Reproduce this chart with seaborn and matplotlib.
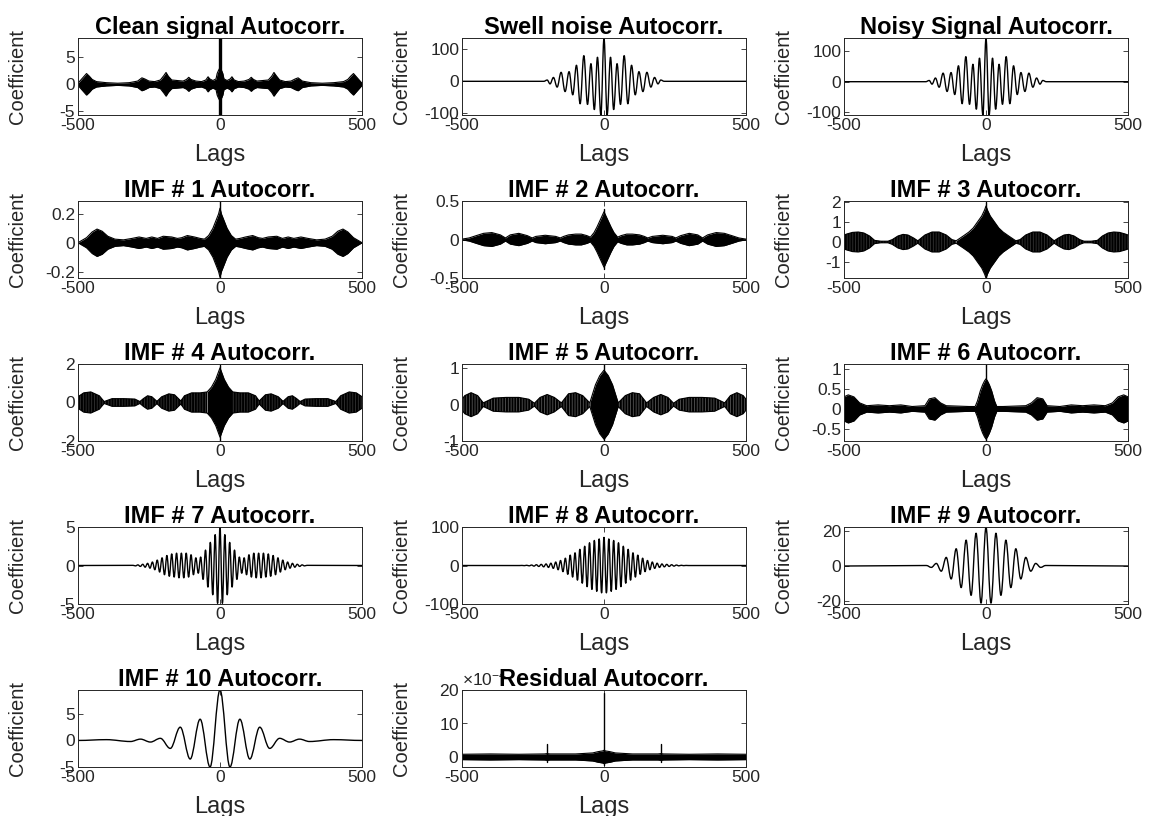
import numpy as np
import matplotlib
matplotlib.use("Agg")
import matplotlib.pyplot as plt
import seaborn as sns
from matplotlib.path import Path
from matplotlib.patches import PathPatch
from matplotlib.ticker import FuncFormatter, ScalarFormatter

# ---------------- data ----------------
titles = ["Clean signal Autocorr.", "Swell noise Autocorr.", "Noisy Signal Autocorr.",
          "IMF # 1 Autocorr.", "IMF # 2 Autocorr.", "IMF # 3 Autocorr.",
          "IMF # 4 Autocorr.", "IMF # 5 Autocorr.", "IMF # 6 Autocorr.",
          "IMF # 7 Autocorr.", "IMF # 8 Autocorr.", "IMF # 9 Autocorr.",
          "IMF # 10 Autocorr.", "Residual Autocorr."]
x_ticks = [-500, 0, 500]

# dense panels: lag knots and envelope amplitude, plus the lag-0 spike (bottom, top)
clean_lags = [-500,-490,-480,-470,-460,-450,-435,-400,-360,-320,-290,-275,-265,-250,-230,-210,-198,-190,-182,-170,
              -150,-130,-118,-110,-102,-85,-65,-50,-42,-36,-25,-14,-10,-6,-1,0,1,6,10,14,25,36,42,50,65,85,102,110,
              118,130,150,170,182,190,198,210,230,250,265,275,290,320,360,400,435,450,460,470,480,490,500]
clean_amp = [0.2,0.8,1.4,2.0,1.5,0.9,0.5,0.3,0.2,0.3,0.6,1.2,1.0,0.6,0.5,0.8,1.6,2.2,1.5,0.8,
             0.7,0.6,0.9,1.3,0.9,0.6,0.5,0.8,1.4,1.0,0.7,1.0,2.0,2.5,3.0,3.0,3.0,2.5,2.0,1.0,0.7,1.0,1.4,0.8,0.5,0.6,0.9,1.3,
             0.9,0.6,0.7,0.8,1.5,2.2,1.6,0.8,0.5,0.6,1.0,1.2,0.6,0.3,0.2,0.3,0.5,0.9,1.5,2.0,1.4,0.8,0.2]
clean_spike = [-5.7, 8.6]

imf1_lags = [-500,-490,-470,-450,-433,-415,-395,-370,-340,-310,-285,-260,-240,-220,-200,-170,-150,-135,-115,-90,-70,-55,
             -40,-25,-15,-5,0,5,15,25,40,55,70,90,115,135,150,170,200,220,240,260,285,310,340,370,395,415,433,450,470,490,500]
imf1_amp = [0.0,0.012,0.035,0.075,0.095,0.08,0.045,0.025,0.02,0.03,0.04,0.03,0.04,0.03,0.045,0.04,0.03,0.035,0.05,0.04,0.03,0.025,
            0.05,0.1,0.15,0.2,0.24,0.2,0.15,0.1,0.05,0.025,0.03,0.04,0.05,0.035,0.03,0.04,0.045,0.03,0.04,0.03,0.04,0.03,0.02,0.025,
            0.045,0.08,0.095,0.075,0.035,0.012,0.0]
imf1_spike = [-0.245, 0.29]

imf2_lags = [-500,-475,-450,-424,-395,-365,-347,-330,-300,-270,-253,-240,-207,-170,-154,-142,-125,-100,-80,-60,-48,-35,-25,-15,-5,
             0,5,15,25,35,48,60,80,100,125,142,154,170,207,240,253,270,300,330,347,365,395,424,450,475,500]
imf2_amp = [0.005,0.02,0.05,0.08,0.09,0.06,0.02,0.06,0.08,0.05,0.02,0.04,0.055,0.04,0.02,0.04,0.06,0.07,0.07,0.05,0.03,0.09,0.16,0.24,0.32,
            0.36,0.32,0.24,0.16,0.09,0.03,0.05,0.07,0.07,0.06,0.04,0.02,0.04,0.055,0.04,0.02,0.05,0.08,0.06,0.02,0.06,0.09,0.08,0.05,0.02,0.005]
imf2_spike = [-0.38, 0.40]

imf3_lags = [-500,-490,-470,-450,-430,-410,-392,-370,-345,-330,-310,-292,-275,-255,-240,-215,-190,-165,-140,-120,-105,-80,-60,-45,-30,-15,-5,
             0,5,15,30,45,60,80,105,120,140,165,190,215,240,255,275,292,310,330,345,370,392,410,430,450,470,490,500]
imf3_amp = [0.35,0.4,0.48,0.5,0.45,0.3,0.08,0.04,0.04,0.12,0.3,0.38,0.35,0.2,0.06,0.35,0.5,0.5,0.35,0.12,0.06,0.3,0.5,0.7,1.0,1.3,1.6,
            1.8,1.6,1.3,1.0,0.7,0.5,0.3,0.06,0.12,0.35,0.5,0.5,0.35,0.06,0.2,0.35,0.38,0.3,0.12,0.04,0.04,0.08,0.3,0.45,0.5,0.48,0.4,0.35]
imf3_spike = [-1.8, 2.0]

imf4_lags = [-500,-480,-455,-425,-408,-380,-340,-300,-282,-270,-255,-240,-222,-205,-180,-160,-138,-125,-100,-70,-45,-30,-15,-5,
             0,5,15,30,45,70,100,125,138,160,180,205,222,240,255,270,282,300,340,380,408,425,455,480,500]
imf4_amp = [0.3,0.5,0.55,0.35,0.05,0.2,0.2,0.18,0.05,0.2,0.35,0.3,0.06,0.3,0.45,0.4,0.08,0.35,0.5,0.5,0.55,0.8,1.2,1.6,
            1.8,1.6,1.2,0.8,0.55,0.5,0.5,0.35,0.08,0.4,0.45,0.3,0.06,0.3,0.35,0.2,0.05,0.18,0.2,0.2,0.05,0.35,0.55,0.5,0.3]
imf4_spike = [-2.0, 1.95]

imf5_lags = [-500,-490,-468,-445,-425,-390,-345,-300,-265,-245,-225,-200,-175,-150,-125,-100,-75,-50,-42,-30,-15,-5,
             0,5,15,30,42,50,75,100,125,150,175,200,225,245,265,300,345,390,425,445,468,490,500]
imf5_amp = [0.15,0.25,0.33,0.25,0.05,0.18,0.2,0.2,0.15,0.04,0.2,0.28,0.2,0.05,0.3,0.33,0.25,0.05,0.25,0.55,0.8,0.9,
            0.95,0.9,0.8,0.55,0.25,0.05,0.25,0.33,0.3,0.05,0.2,0.28,0.2,0.04,0.15,0.2,0.2,0.18,0.05,0.25,0.33,0.25,0.15]
imf5_spike = [-1.0, 1.12]

imf6_lags = [-500,-485,-465,-445,-420,-380,-340,-300,-260,-215,-200,-180,-160,-140,-100,-60,-38,-30,-20,-12,-5,
             0,5,12,20,30,38,60,100,140,160,180,200,215,260,300,340,380,420,445,465,485,500]
imf6_amp = [0.3,0.35,0.3,0.15,0.08,0.1,0.08,0.1,0.06,0.08,0.25,0.28,0.15,0.08,0.07,0.06,0.06,0.2,0.45,0.6,0.7,
            0.75,0.7,0.6,0.45,0.2,0.06,0.06,0.07,0.08,0.15,0.28,0.25,0.08,0.06,0.1,0.08,0.1,0.08,0.15,0.3,0.35,0.3]
imf6_spike = [-0.8, 1.12]

resid_lags = [-500,-400,-300,-210,-200,-190,-100,-40,-20,-5,0,5,20,40,100,190,200,210,300,400,500]
resid_amp = [0.8e-4,0.9e-4,0.8e-4,0.9e-4,1.0e-4,0.9e-4,0.9e-4,1.2e-4,1.6e-4,1.8e-4,2.0e-4,1.8e-4,1.6e-4,1.2e-4,
             0.9e-4,0.9e-4,1.0e-4,0.9e-4,0.8e-4,0.9e-4,0.8e-4]
resid_spike_lags = [-200, 0, 200]
resid_spike_low = [-1.5e-4, -2.5e-4, -1.5e-4]
resid_spike_high = [4e-4, 19e-4, 4e-4]

# oscillating panels: lags of the extrema and their values
swell_lags = [-500,-212,-200,-190,-178,-165,-151,-137,-123,-110,-97,-84,-71,-58,-46,-34,-23,-11,0,
              11,23,34,46,58,71,84,97,110,123,137,151,165,178,190,200,212,500]
swell_vals = [0,0,4,-8,12,-18,28,-32,30,-42,50,-70,80,-72,55,-88,75,-105,135,
              -105,75,-88,55,-72,80,-70,50,-42,30,-32,28,-18,12,-8,4,0,0]
noisy_vals = [0,0,4,-8,12,-18,28,-32,30,-42,52,-72,82,-74,57,-90,77,-109,143,
              -109,77,-90,57,-74,82,-72,52,-42,30,-32,28,-18,12,-8,4,0,0]

imf7_lags = np.concatenate([[-500], np.arange(-306, 306.1, 8.5), [500]])
imf7_vals = [0,
             0.02,-0.05,0.08,-0.12,0.16,-0.22,0.28,-0.35,0.45,-0.55,0.7,-0.85,1.0,-1.2,1.3,-1.4,1.5,-1.5,
             1.6,-1.6,1.6,-1.6,1.6,-1.5,1.4,-1.2,1.0,-1.0,1.1,-1.8,2.0,-2.8,3.0,-3.8,4.0,-4.9,
             5.0,
             -4.9,4.0,-3.8,3.0,-2.8,2.0,-1.8,1.1,-1.0,1.0,-1.2,1.4,-1.5,1.6,-1.6,1.6,-1.6,1.6,
             -1.5,1.5,-1.4,1.3,-1.2,1.0,-0.85,0.7,-0.55,0.45,-0.35,0.28,-0.22,0.16,-0.12,0.08,-0.05,0.02,
             0]

imf8_lags = np.concatenate([[-500], np.arange(-297.5, 297.6, 8.5), [500]])
imf8_vals = [0,
             -0.1,0.2,-0.4,0.6,-0.9,1.2,-1.6,2,-2.5,3,-3.5,4,-5,6,-7.5,9,-11,13,-16,19,-23,27,-30,33,-38,42,
             -46,50,-55,59,-62,65,-67,69,-71,
             73,
             -71,69,-67,65,-62,59,-55,50,-46,42,-38,33,-30,27,-23,19,-16,13,-11,9,-7.5,6,-5,4,-3.5,3,-2.5,2,
             -1.6,1.2,-0.9,0.6,-0.4,0.2,-0.1,
             0]

imf9_lags = np.concatenate([[-500], np.arange(-210, 210.1, 17.5), [500]])
imf9_vals = [0,
             0.3,-0.8,1.5,-3,5,-7.5,10,-12.5,15,-17,19,-21.5,
             22.5,
             -21.5,19,-17,15,-12.5,10,-7.5,5,-3,1.5,-0.8,0.3,
             0]

imf10_lags = [-500,-400,-315,-280,-245,-210,-175,-140,-105,-70,-35,0,35,70,105,140,175,210,245,280,315,400,500]
imf10_vals = [0.0,0.15,-0.2,0.25,-0.3,0.4,-1.5,2.5,-3.5,4.0,-5.0,9.5,-5.0,4.0,-3.5,2.5,-1.5,0.4,-0.3,0.25,-0.2,0.15,0.0]

# ---------------- drawing ----------------
sns.set_theme(style="white")
plt.rcParams["font.family"] = ["Liberation Sans", "DejaVu Sans"]
plt.rcParams["axes.unicode_minus"] = False
plt.rcParams["mathtext.fontset"] = "custom"
plt.rcParams["mathtext.rm"] = "Liberation Sans"
plt.rcParams["hatch.color"] = "black"
plt.rcParams["hatch.linewidth"] = 1.4

W, H = 1149, 816
fig = plt.figure(figsize=(W / 100, H / 100), dpi=100)
col_left = [78, 462, 844]
row_top = [38, 201, 364, 527, 690]
AW, AH = 284, 77
INK = "#262626"


def make_ax(r, c):
    return fig.add_axes([col_left[c] / W, 1 - (row_top[r] + AH) / H, AW / W, AH / H])


def line_panel(ax, lags, vals, lw=1.0):
    """Smooth oscillation through the read extrema (horizontal tangent at each extremum)."""
    x = np.asarray(lags, float)
    y = np.asarray(vals, float)
    verts = [(x[0], y[0])]
    codes = [Path.MOVETO]
    for i in range(len(x) - 1):
        d = x[i + 1] - x[i]
        verts += [(x[i] + 0.364 * d, y[i]), (x[i + 1] - 0.364 * d, y[i + 1]), (x[i + 1], y[i + 1])]
        codes += [Path.CURVE4] * 3
    ax.add_patch(PathPatch(Path(verts, codes), facecolor="none", edgecolor="black",
                           linewidth=lw, transform=ax.transData, capstyle="round", joinstyle="round"))


def env_panel(ax, lags, amp, spike_lags, spike_low, spike_high, spike_lw=1.0,
              hatch=None, solid_w=None, shade="#4d4d4d"):
    lags = np.asarray(lags, float)
    amp = np.asarray(amp, float)
    if hatch is None:
        ax.fill_between(lags, -amp, amp, color="black", linewidth=0)
    else:
        inner = np.abs(lags) <= solid_w
        outer = np.abs(lags) >= solid_w
        ax.fill_between(lags, -amp, amp, where=inner, color="black", linewidth=0)
        ax.fill_between(lags, -amp, amp, where=outer, facecolor=shade, edgecolor="black",
                        hatch=hatch, linewidth=0)
    sns.lineplot(x=lags, y=amp, ax=ax, color="black", linewidth=0.8, estimator=None, sort=False)
    sns.lineplot(x=lags, y=-amp, ax=ax, color="black", linewidth=0.8, estimator=None, sort=False)
    for sl, lo, hi in zip(spike_lags, spike_low, spike_high):
        sns.lineplot(x=[sl, sl], y=[lo, hi], ax=ax, color="black", linewidth=spike_lw,
                     estimator=None, sort=False)


def style(ax, title, ylim, yticks):
    ax.set_xlim(-500, 500)
    ax.set_ylim(*ylim)
    ax.set_xticks(x_ticks)
    ax.set_yticks(yticks)
    ax.yaxis.set_major_formatter(FuncFormatter(lambda v, p: f"{v:g}"))
    ax.set_title(title, fontsize=17, fontweight="bold", color="black", pad=3, y=1.0)
    ax.set_xlabel("Lags", fontsize=17, color=INK, labelpad=8)
    ax.set_ylabel("Coefficient", fontsize=14.5, color=INK)
    ax.yaxis.set_label_coords(-0.18, 0.5)
    ax.tick_params(axis="both", which="major", direction="in", bottom=True, left=True,
                   top=True, right=True, length=3.5, width=0.6, color=INK,
                   labelcolor=INK, labelsize=12.5, pad=2)
    for s in ax.spines.values():
        s.set_color(INK)
        s.set_linewidth(0.7)


ax = make_ax(0, 0)
env_panel(ax, clean_lags, clean_amp, [0], [clean_spike[0]], [clean_spike[1]], spike_lw=2.4)
style(ax, titles[0], (-5.7, 8.6), [-5, 0, 5])

ax = make_ax(0, 1)
line_panel(ax, swell_lags, swell_vals)
style(ax, titles[1], (-105, 135), [-100, 0, 100])

ax = make_ax(0, 2)
line_panel(ax, swell_lags, noisy_vals)
style(ax, titles[2], (-109, 143), [-100, 0, 100])

ax = make_ax(1, 0)
env_panel(ax, imf1_lags, imf1_amp, [0], [imf1_spike[0]], [imf1_spike[1]])
style(ax, titles[3], (-0.245, 0.29), [-0.2, 0, 0.2])

ax = make_ax(1, 1)
env_panel(ax, imf2_lags, imf2_amp, [0], [imf2_spike[0]], [imf2_spike[1]])
style(ax, titles[4], (-0.5, 0.5), [-0.5, 0, 0.5])

ax = make_ax(1, 2)
env_panel(ax, imf3_lags, imf3_amp, [0], [imf3_spike[0]], [imf3_spike[1]],
          hatch="|" * 6, solid_w=105, shade="#333333")
style(ax, titles[5], (-1.8, 2.05), [-1, 0, 1, 2])

ax = make_ax(2, 0)
env_panel(ax, imf4_lags, imf4_amp, [0], [imf4_spike[0]], [imf4_spike[1]],
          hatch="|" * 6, solid_w=45, shade="#333333")
style(ax, titles[6], (-2, 2), [-2, 0, 2])

ax = make_ax(2, 1)
env_panel(ax, imf5_lags, imf5_amp, [0], [imf5_spike[0]], [imf5_spike[1]],
          hatch="|" * 6, solid_w=50, shade="#555555")
style(ax, titles[7], (-1.0, 1.12), [-1, 0, 1])

ax = make_ax(2, 2)
env_panel(ax, imf6_lags, imf6_amp, [0], [imf6_spike[0]], [imf6_spike[1]])
style(ax, titles[8], (-0.8, 1.12), [-0.5, 0, 0.5, 1])

ax = make_ax(3, 0)
line_panel(ax, imf7_lags, imf7_vals)
style(ax, titles[9], (-5, 5), [-5, 0, 5])

ax = make_ax(3, 1)
line_panel(ax, imf8_lags, imf8_vals)
style(ax, titles[10], (-100, 100), [-100, 0, 100])

ax = make_ax(3, 2)
line_panel(ax, imf9_lags, imf9_vals)
style(ax, titles[11], (-22, 22.6), [-20, 0, 20])

ax = make_ax(4, 0)
line_panel(ax, imf10_lags, imf10_vals)
style(ax, titles[12], (-5, 9.5), [-5, 0, 5])

ax = make_ax(4, 1)
env_panel(ax, resid_lags, resid_amp, resid_spike_lags, resid_spike_low, resid_spike_high)
style(ax, titles[13], (-3e-4, 20e-4), [0, 10e-4, 20e-4])
fmt = ScalarFormatter(useMathText=True)
fmt.set_powerlimits((-4, -4))
ax.yaxis.set_major_formatter(fmt)
ax.yaxis.get_offset_text().set_fontsize(12.5)
ax.yaxis.get_offset_text().set_color(INK)

fig.savefig("out.png", dpi=100, facecolor="white")
